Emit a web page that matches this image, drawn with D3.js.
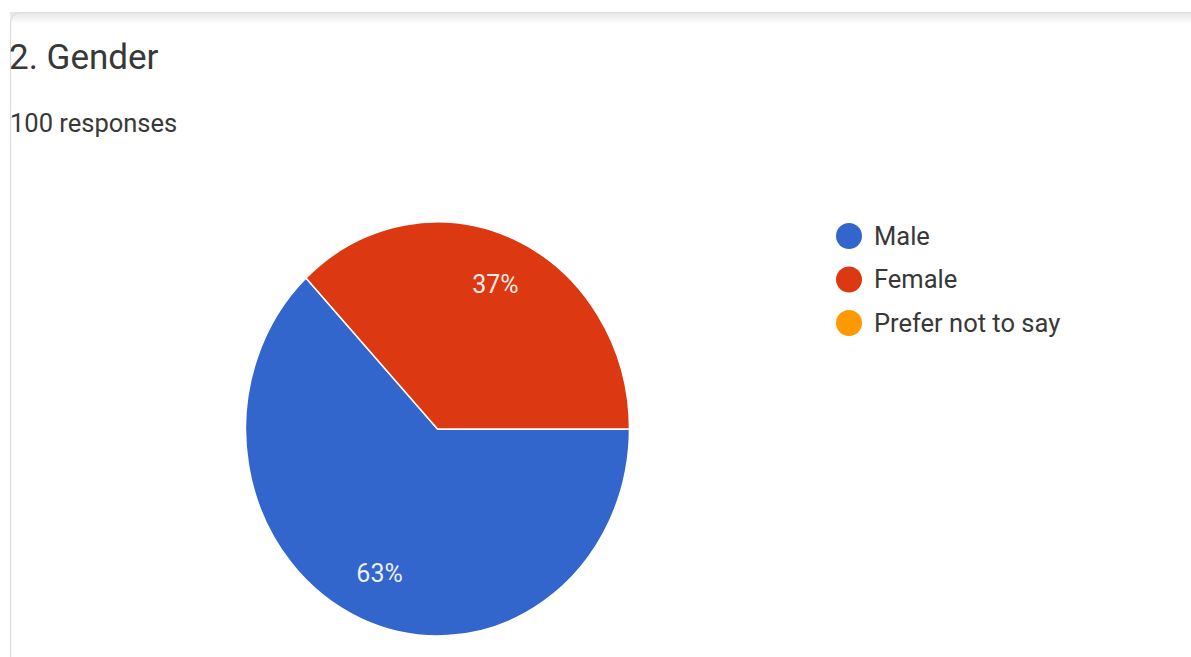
<!DOCTYPE html>
<html>
<head>
<meta charset="utf-8">
<script src="https://cdn.jsdelivr.net/npm/d3@7"></script>
<style>
  body { margin: 0; background: #fff; }
  svg { display: block; font-family: Roboto, "Noto Sans", sans-serif; }
</style>
</head>
<body>
<div id="chart"></div>
<script>
// data
var labels = ["Male", "Female", "Prefer not to say"];
var counts = [63, 37, 0];
var colors = ["#3366cc", "#dc3912", "#ff9900"];
var title = "2. Gender";
var subtitle = "100 responses";

var width = 1191, height = 657;

var svg = d3.select("#chart").append("svg")
    .attr("width", width)
    .attr("height", height);

// card outline (top + left edge with rounded corner) and soft shadow
var defs = svg.append("defs");
var shadow = defs.append("linearGradient")
    .attr("id", "topShade").attr("x1", 0).attr("x2", 0).attr("y1", 0).attr("y2", 1);
shadow.append("stop").attr("offset", "0%").attr("stop-color", "#e4e4e4");
shadow.append("stop").attr("offset", "100%").attr("stop-color", "#ffffff");

svg.append("rect")
    .attr("x", 10).attr("y", 12)
    .attr("width", width - 10).attr("height", 12)
    .attr("fill", "url(#topShade)");

svg.append("path")
    .attr("d", "M10.5," + height + " L10.5,24 Q10.5,12.5 22,12.5 L" + width + ",12.5")
    .attr("fill", "none")
    .attr("stroke", "#dcdcdc")
    .attr("stroke-width", 1.2);

svg.append("text")
    .attr("x", 9).attr("y", 69)
    .attr("font-size", 35)
    .attr("fill", "#383838")
    .text(title);

svg.append("text")
    .attr("x", 10).attr("y", 132)
    .attr("font-size", 25.5)
    .attr("fill", "#383838")
    .text(subtitle);

// pie: starts at 3 o'clock, runs clockwise
var cx = 437.5, cy = 429, rx = 192, ry = 207;

var pie = d3.pie()
    .sort(null)
    .startAngle(Math.PI / 2)
    .endAngle(Math.PI / 2 + 2 * Math.PI)
    .value(function(d) { return d; });

var arcs = pie(counts);

var arc = d3.arc().innerRadius(0).outerRadius(1);
var labelArc = d3.arc().innerRadius(0.76).outerRadius(0.76);

var pieG = svg.append("g")
    .attr("transform", "translate(" + cx + "," + cy + ") scale(" + rx + "," + ry + ")");

pieG.selectAll("path")
    .data(arcs.filter(function(d) { return d.value > 0; }))
    .enter()
    .append("path")
    .attr("d", arc)
    .attr("fill", function(d) { return colors[d.index]; })
    .attr("stroke", "#fff")
    .attr("stroke-width", 1.5)
    .attr("vector-effect", "non-scaling-stroke");

var total = d3.sum(counts);

svg.append("g")
    .attr("transform", "translate(" + cx + "," + cy + ")")
    .selectAll("text")
    .data(arcs.filter(function(d) { return d.value > 0; }))
    .enter()
    .append("text")
    .attr("x", function(d) { return labelArc.centroid(d)[0] * rx; })
    .attr("y", function(d) { return labelArc.centroid(d)[1] * ry; })
    .attr("dy", "0.35em")
    .attr("text-anchor", "middle")
    .attr("font-size", 25)
    .attr("fill", "#fff")
    .attr("fill-opacity", 0.92)
    .text(function(d) { return Math.round(d.value / total * 100) + "%"; });

// legend
var legend = svg.append("g").attr("transform", "translate(849,236)");
var rows = legend.selectAll("g")
    .data(labels)
    .enter()
    .append("g")
    .attr("transform", function(d, i) { return "translate(0," + (i * 43.5) + ")"; });

rows.append("circle")
    .attr("r", 13)
    .attr("fill", function(d, i) { return colors[i]; });

rows.append("text")
    .attr("x", 25)
    .attr("dy", "0.35em")
    .attr("font-size", 25.5)
    .attr("fill", "#383838")
    .text(function(d) { return d; });
</script>
</body>
</html>
